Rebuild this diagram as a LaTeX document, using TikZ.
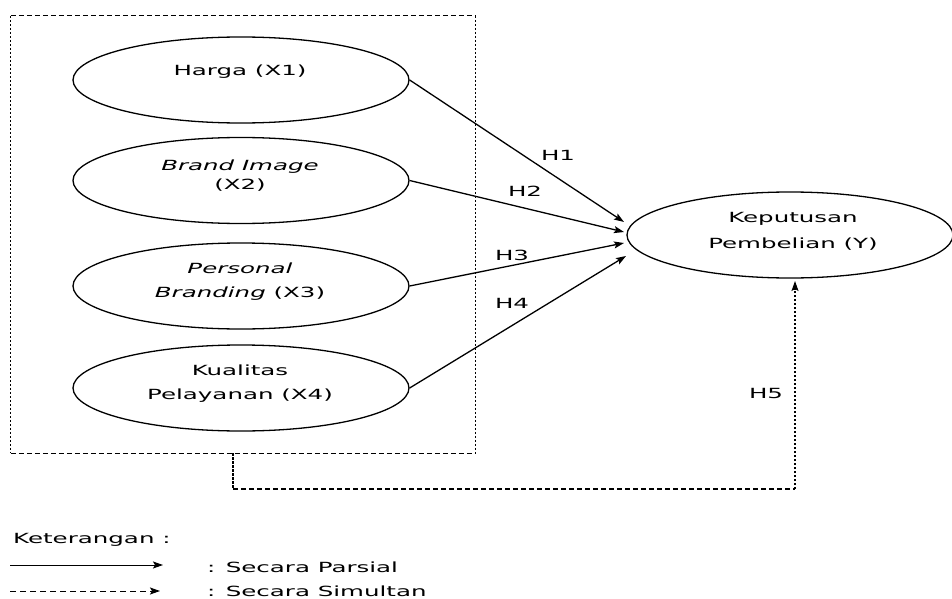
\documentclass[tikz,border=0pt]{standalone}
\usepackage{fontspec}
\setmainfont{DejaVu Sans}[FakeStretch=1.75]
\usetikzlibrary{shapes.geometric,arrows.meta}
\tikzset{
  ell/.style={draw, ellipse, line width=1.3pt, inner sep=0pt, minimum width=336pt, minimum height=86pt},
  txt/.style={align=center, font=\fontsize{14}{24}\selectfont, inner sep=0pt},
  lbl/.style={font=\fontsize{14}{17}\selectfont, inner sep=0pt},
  arr/.style={line width=1.3pt, -{Stealth[length=10pt,width=7pt,inset=2pt]}},
  dashh/.style={line width=1.2pt, dash pattern=on 5pt off 3pt},
  dotv/.style={line width=1.2pt, dash pattern=on 2.5pt off 1.5pt},
}
\begin{document}
\begin{tikzpicture}[x=1pt,y=-1pt]
\useasboundingbox (0,0) rectangle (952,599);
\clip (0,0) rectangle (952,599);
% dashed box
\node[inner sep=0pt, minimum width=464pt, minimum height=437pt] (box) at (243,234.5) {};
\draw[dashh] (box.north west) -- (box.north east);
\draw[dashh] (box.south west) -- (box.south east);
\draw[dotv] (box.north west) -- (box.south west);
\draw[dotv] (box.north east) -- (box.south east);
% ellipses
\node[ell] (X1) at (241,80) {};
\node[ell] (X2) at (241,180.5) {};
\node[ell] (X3) at (241,286) {};
\node[ell] (X4) at (241,388) {};
\node[ell, minimum width=326pt] (Y) at (790,235) {};
% texts
\node[txt] (tX1) at (240,72) {Harga (X1)};
\node[txt, font=\fontsize{14}{19}\selectfont] (tX2) at (240,176) {\textit{Brand Image}\\(X2)};
\node[txt] (tX3) at (240,282) {\textit{Personal}\\\textit{Branding} (X3)};
\node[txt] (tX4) at (240,384) {Kualitas\\Pelayanan (X4)};
\node[txt, font=\fontsize{14}{26}\selectfont] (tY) at (793,231) {Keputusan\\Pembelian (Y)};
% arrow ends
\coordinate (t1) at (624,222);
\coordinate (t2) at (624,232);
\coordinate (t3) at (624,243);
\coordinate (t4) at (626,256);
\draw[arr] (X1.east) -- (t1);
\draw[arr] (X2.east) -- (t2);
\draw[arr] (X3.east) -- (t3);
\draw[arr] (X4.east) -- (t4);
\node[lbl] (H1) at (558,155) {H1};
\node[lbl] (H2) at (525,191) {H2};
\node[lbl] (H3) at (512,255) {H3};
\node[lbl] (H4) at (512,303) {H4};
\node[lbl] (H5) at (766,393) {H5};
% simultaneous connector
\coordinate (c0) at (233,453);
\coordinate (c1) at (233,489);
\coordinate (c2) at (795,489);
\coordinate (c3) at (795,281);
\draw[dotv] (c0) -- (c1);
\draw[dashh] (c1) -- (c2);
\draw[arr, dash pattern=on 2.5pt off 1.5pt] (c2) -- (c3);
% legend
\node[lbl, anchor=base west] (ket) at (13,543) {Keterangan :};
\coordinate (la) at (10,565);
\coordinate (lb) at (163,565);
\coordinate (lc) at (10,591);
\coordinate (ld) at (160,591);
\draw[arr, line width=1pt] (la) -- (lb);
\draw[arr, line width=1pt, dash pattern=on 6pt off 4pt] (lc) -- (ld);
\node[lbl, anchor=base west] (lp) at (207,572) {: Secara Parsial};
\node[lbl, anchor=base west] (ls) at (207,596) {: Secara Simultan};
\end{tikzpicture}
\end{document}
